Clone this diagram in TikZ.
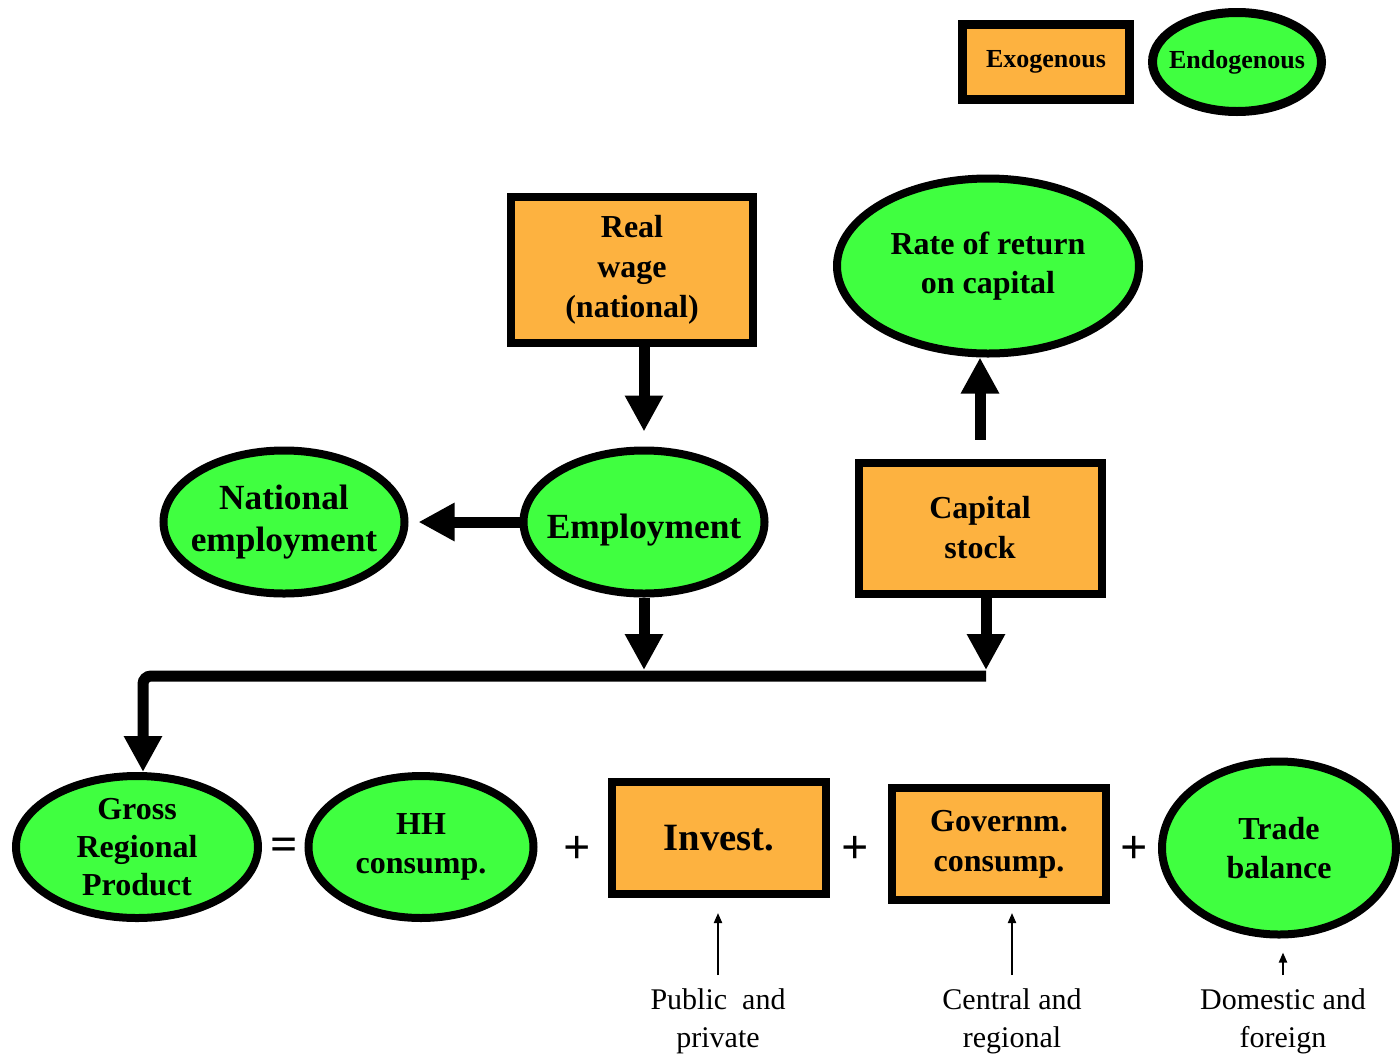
\documentclass[tikz,border=0pt]{standalone}
\usepackage{fontspec}
\setmainfont{Liberation Serif}
\usetikzlibrary{arrows.meta,shapes.geometric}

\definecolor{exoorange}{RGB}{253,178,64}
\definecolor{endogreen}{RGB}{64,255,64}

\tikzset{every picture/.style={line width=0.75pt}}
\tikzset{
  exo/.style={draw, line width=6pt, fill=exoorange, rectangle, inner sep=0pt, align=center, font=\bfseries\fontsize{24}{30}\selectfont},
  endo/.style={draw, line width=6pt, fill=endogreen, ellipse, inner xsep=-40pt, inner ysep=-30pt, align=center, font=\bfseries\fontsize{24}{29}\selectfont},
  bigarrow/.style={line width=8.25pt, -{Triangle[width=27pt,length=27pt]}},
  smallarrow/.style={line width=1.5pt, -{Triangle[width=6pt,length=7.5pt]}},
  note/.style={align=center, inner sep=0pt, anchor=north, font=\fontsize{22.5}{28.5}\selectfont},
  opsign/.style={inner sep=0pt, font=\bfseries\fontsize{36}{36}\selectfont}
}

\begin{document}
\begin{tikzpicture}[x=0.75pt,y=0.75pt,yscale=-1,xscale=1]
        \useasboundingbox (0,0) rectangle (1400,1054);

        %Shape: Legend [id:legend]
        \node [exo, minimum width=125.25pt, minimum height=56.25pt, line width=6.75pt, font=\bfseries\fontsize{19.5}{23}\selectfont] (exokey) at (1046,62) {Exogenous};
        \node [endo, minimum width=126.75pt, minimum height=74.25pt, line width=6.75pt, font=\bfseries\fontsize{19.5}{23}\selectfont] (endokey) at (1237,62) {Endogenous};

        %Shape: Rectangle [id:wage]
        \node [exo, minimum width=181.5pt, minimum height=109.5pt] (wage) at (632,270) {Real\\wage\\(national)};
        %Shape: Ellipse [id:rate]
        \node [endo, minimum width=226.5pt, minimum height=131.25pt] (rate) at (988,266) {Rate of return\\on capital};
        %Shape: Ellipse [id:natemp]
        \node [endo, minimum width=180.75pt, minimum height=107.25pt, font=\bfseries\fontsize{26.5}{32}\selectfont] (natemp) at (284,522) {National\\employment};
        %Shape: Ellipse [id:emp]
        \node [endo, minimum width=180.75pt, minimum height=107.25pt, text height=31pt, text depth=6pt, font=\bfseries\fontsize{26.5}{32}\selectfont] (emp) at (644,522) {Employment};
        %Shape: Rectangle [id:cap]
        \node [exo, minimum width=182.25pt, minimum height=98.25pt] (cap) at (980,528) {Capital\\stock};

        %Shape: Ellipse [id:grp]
        \node [endo, minimum width=181.5pt, minimum height=106.5pt, font=\bfseries\fontsize{24}{28.5}\selectfont] (grp) at (137,847) {Gross\\Regional\\Product};
        %Shape: Ellipse [id:hh]
        \node [endo, minimum width=168.75pt, minimum height=106.5pt] (hh) at (421,847) {HH\\consump.};
        %Shape: Rectangle [id:inv]
        \node [exo, minimum width=160.5pt, minimum height=84pt, font=\bfseries\fontsize{29}{32}\selectfont] (inv) at (719,838) {Invest.};
        %Shape: Rectangle [id:gov]
        \node [exo, minimum width=160.5pt, minimum height=84pt] (gov) at (999,844) {Governm.\\consump.};
        %Shape: Ellipse [id:trade]
        \node [endo, minimum width=175.5pt, minimum height=129.75pt] (trade) at (1279,848) {Trade\\balance};

        % Text Node
        \node [opsign] (eq) at (284,849) {=};
        % Text Node
        \node [opsign] (plusa) at (577,850) {+};
        % Text Node
        \node [opsign] (plusb) at (855,850) {+};
        % Text Node
        \node [opsign] (plusc) at (1134,850) {+};

        % Text Node
        \node [note] (pubpriv) at (718,988) {Public~ and\\private};
        % Text Node
        \node [note] (cenreg) at (1012,988) {Central and\\regional};
        % Text Node
        \node [note] (domfor) at (1283,988) {Domestic and\\foreign};

        %Straight Lines [id:wage-emp]
        \draw [bigarrow, shorten >=11.25pt] (emp.north |- wage.south) -- (emp.north);
        %Straight Lines [id:cap-rate]
        \draw [bigarrow, shorten <=14.25pt] (cap.north) -- (cap.north |- rate.south);
        %Straight Lines [id:emp-natemp]
        \draw [bigarrow, shorten >=7.5pt] (emp.west) -- (natemp.east);

        \coordinate (busR) at (986,676);
        \coordinate (busL) at (143,676);
        %Straight Lines [id:emp-bus]
        \draw [bigarrow, shorten >=4.5pt] (emp.south) -- (emp.south |- busR);
        %Straight Lines [id:cap-bus]
        \draw [bigarrow, shorten >=4.5pt] (busR |- cap.south) -- (busR);
        %Straight Lines [id:bus-grp]
        \draw [bigarrow, rounded corners=6pt] (busR) -- (busL) -- (busL |- grp.north);

        %Straight Lines [id:notes]
        \draw [smallarrow, shorten <=9.75pt, shorten >=11.25pt] (pubpriv.north) -- (pubpriv.north |- inv.south);
        \draw [smallarrow, shorten <=9.75pt, shorten >=6.75pt] (cenreg.north) -- (cenreg.north |- gov.south);
        \draw [smallarrow, shorten <=9.75pt, shorten >=10.5pt] (domfor.north) -- (domfor.north |- trade.south);
\end{tikzpicture}
\end{document}
